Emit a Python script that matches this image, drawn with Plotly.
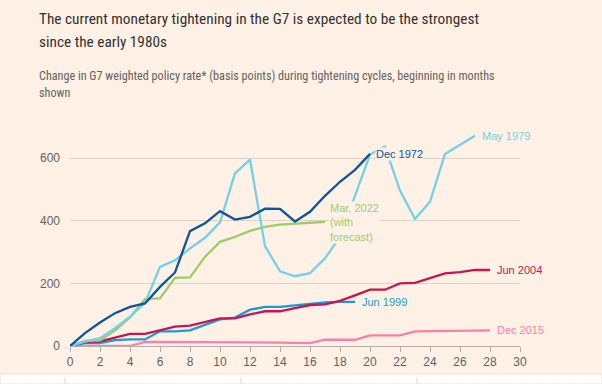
import plotly.graph_objects as go

# ---- data (basis points, by month since start of tightening cycle) ----
dec1972 = [0, 41, 75, 105, 125, 136, 189, 235, 367, 392, 431, 404, 413, 439, 438, 398, 429, 480, 525, 563, 614]
may1979 = [0, 14, 25, 57, 94, 138, 253, 274, 312, 346, 395, 552, 596, 319, 239, 223, 233, 280, 349, 482, 612,
           637, 497, 406, 461, 614, 643, 672]
mar2022 = [0, 16, 18, 49, 91, 150, 152, 218, 219, 285, 333, 349, 368, 381, 388, 392, 394, 397]
jun1999 = [0, 9, 9, 19, 21, 21, 47, 47, 50, 68, 85, 91, 116, 125, 125, 130, 135, 139, 141, 141]
jun2004 = [0, 12, 15, 27, 39, 39, 50, 62, 65, 77, 88, 88, 101, 111, 111, 121, 131, 133, 144, 162, 180,
           180, 200, 202, 216, 232, 236, 243, 243]
dec2015 = [0, 0, 0, 0, 0, 13, 13, 13, 13, 13, 13, 13, 13, 12, 11, 10, 9, 20, 20, 20, 34,
           34, 34, 47, 48, 48, 49, 49, 50]

x_ticks = list(range(0, 31, 2))
y_ticks = [0, 200, 400, 600]

title_lines = ["The current monetary tightening in the G7 is expected to be the strongest",
               "since the early 1980s"]
subtitle_lines = ["Change in G7 weighted policy rate* (basis points) during tightening cycles, beginning in months",
                  "shown"]

series = [
    ("Dec 2015", dec2015, "#ff7faa"),
    ("Jun 1999", jun1999, "#1a9ad6"),
    ("Jun 2004", jun2004, "#c8154f"),
    ("Mar 2022", mar2022, "#9dcc6a"),
    ("May 1979", may1979, "#72d0e8"),
    ("Dec 1972", dec1972, "#0f5499"),
]

W, H = 602, 384
L, R, T, B = 70, 82, 127, 38
PW, PH = W - L - R, H - T - B

def px(xp):
    return (xp - L) / PW

def py(yp):
    return (H - B - yp) / PH

BG = "#fff1e5"
NARROW = "Liberation Sans Narrow, Roboto Condensed, Liberation Sans, sans-serif"
REG = "Liberation Sans, Arial, sans-serif"

fig = go.Figure()
for name, vals, col in series:
    fig.add_trace(go.Scatter(
        x=list(range(len(vals))), y=vals, mode="lines", name=name,
        line=dict(color=col, width=2.3), cliponaxis=False, hoverinfo="skip",
    ))

ann = []
# titles
for txt, yc in zip(title_lines, [19, 42]):
    ann.append(dict(text=txt, x=px(37), y=py(yc), xref="paper", yref="paper",
                    xanchor="left", yanchor="middle", showarrow=False,
                    font=dict(family=NARROW, size=15.3, color="#33302e")))
for txt, yc in zip(subtitle_lines, [76, 93]):
    ann.append(dict(text=txt, x=px(37), y=py(yc), xref="paper", yref="paper",
                    xanchor="left", yanchor="middle", showarrow=False,
                    font=dict(family=NARROW, size=12.15, color="#66605c")))

lab_font = lambda c: dict(family=REG, size=11, color=c)
col = {n: c for n, _, c in series}
ann.append(dict(text="May 1979", x=len(may1979) - 1, y=may1979[-1], xshift=5, xanchor="left",
                yanchor="middle", showarrow=False, font=lab_font(col["May 1979"])))
ann.append(dict(text="Dec 1972", x=len(dec1972) - 1, y=dec1972[-1], xshift=5, xanchor="left",
                yanchor="middle", showarrow=False, font=lab_font(col["Dec 1972"]), bgcolor=BG,
                borderpad=0))
ann.append(dict(text="Mar, 2022<br>(with<br>forecast)", x=len(mar2022) - 1, y=mar2022[-1],
                xshift=4, yshift=-1, xanchor="left", yanchor="middle", align="left",
                showarrow=False, font=lab_font(col["Mar 2022"]), bgcolor=BG, borderpad=0))
ann.append(dict(text="Jun 1999", x=len(jun1999) - 1, y=jun1999[-1], xshift=5, xanchor="left",
                yanchor="middle", showarrow=False, font=lab_font(col["Jun 1999"])))
ann.append(dict(text="Jun 2004", x=len(jun2004) - 1, y=jun2004[-1], xshift=5, xanchor="left",
                yanchor="middle", showarrow=False, font=lab_font(col["Jun 2004"])))
ann.append(dict(text="Dec 2015", x=len(dec2015) - 1, y=dec2015[-1], xshift=5, xanchor="left",
                yanchor="middle", showarrow=False, font=lab_font(col["Dec 2015"])))

fig.update_layout(
    width=W, height=H,
    margin=dict(l=L, r=R, t=T, b=B, pad=0),
    paper_bgcolor=BG, plot_bgcolor=BG,
    showlegend=False,
    annotations=ann,
    xaxis=dict(range=[0, 30], tickvals=x_ticks, ticks="outside", ticklen=5, tickcolor="#b8aea6",
               showline=True, linecolor="#b8aea6", linewidth=1, showgrid=False, zeroline=False,
               tickfont=dict(family=REG, size=12, color="#66605c"), fixedrange=True),
    yaxis=dict(range=[0, 700], tickvals=y_ticks, showgrid=True, gridcolor="#ddd2c8", gridwidth=1,
               zeroline=False, showline=False, ticks="", ticklabelstandoff=9,
               tickfont=dict(family=REG, size=12, color="#66605c"), fixedrange=True),
)

# white strip at the bottom of the screenshot (page furniture below the chart)
fig.add_shape(type="rect", xref="paper", yref="paper", x0=px(0), x1=px(W), y0=py(H), y1=py(374),
              fillcolor="#ffffff", line=dict(color="#e6e2de", width=1), layer="above")
for xv in [65, 241, 417]:
    fig.add_shape(type="line", xref="paper", yref="paper", x0=px(xv), x1=px(xv),
                  y0=py(378), y1=py(H), line=dict(color="#d8d8d8", width=1), layer="above")

fig.write_html("out.html", config={"displayModeBar": False},
               post_script="document.body.style.margin='0px';document.body.style.overflow='hidden';")
